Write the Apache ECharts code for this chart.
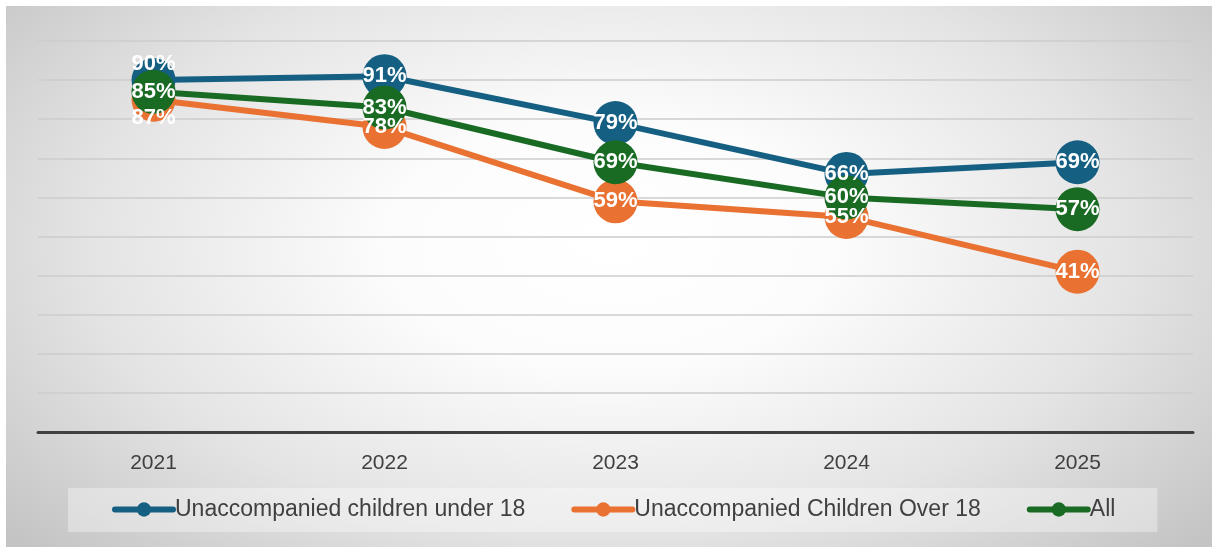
<!DOCTYPE html>
<html>
<head>
<meta charset="utf-8">
<script src="https://cdn.jsdelivr.net/npm/echarts@6/dist/echarts.min.js"></script>
<style>
	html, body { margin: 0; padding: 0; background: #fff; }
	.chart {
		position: absolute;
		left: 6px;
		top: 6px;
		width: 1206px;
		height: 541px;
		background: radial-gradient(ellipse 66% 82% at 50% 44%, #ffffff 0%, #fcfcfc 28%, #e4e4e4 65%, #c4c4c4 100%);
	}
</style>
</head>
<body>
<div class="chart" id="chart"></div>
<script>
	var years = ['2021', '2022', '2023', '2024', '2025'];
	var seriesNames = ['Unaccompanied children under 18', 'Unaccompanied Children Over 18', 'All'];
	var under18 = [90, 91, 79, 66, 69];
	var over18 = [85, 78, 59, 55, 41];
	var allChildren = [87, 83, 69, 60, 57];
	// data labels as printed on the chart
	var under18Labels = ['90%', '91%', '79%', '66%', '69%'];
	var over18Labels = ['87%', '78%', '59%', '55%', '41%'];
	var allLabels = ['85%', '83%', '69%', '60%', '57%'];
	var colors = ['#156082', '#e97132', '#196b24'];

	function makeSeries(name, values, labels, color, firstOffset) {
		return {
			name: name,
			type: 'line',
			data: values.map(function (v, i) {
				var item = { value: v };
				if (i === 0 && firstOffset) {
					item.label = { offset: firstOffset };
				}
				return item;
			}),
			symbol: 'circle',
			symbolSize: 44,
			color: color,
			lineStyle: { width: 6, color: color },
			itemStyle: { color: color },
			label: {
				show: true,
				position: 'inside',
				color: '#fff',
				fontSize: 22,
				fontWeight: 'bold',
				fontFamily: 'Liberation Sans, Arial, sans-serif',
				formatter: function (p) {
					return labels[p.dataIndex];
				}
			},
			emphasis: { disabled: true },
			animation: false
		};
	}

	var chart = echarts.init(document.getElementById('chart'));
	chart.setOption({
		backgroundColor: 'transparent',
		grid: {
			left: 32,
			right: 19,
			top: 35,
			bottom: 115,
			containLabel: false
		},
		legend: {
			left: 62,
			top: 482,
			backgroundColor: 'rgba(255,255,255,0.35)',
			padding: [10, 42, 11, 44],
			itemGap: 46,
			itemWidth: 58,
			itemHeight: 18,
			lineStyle: { width: 6, cap: 'round' },
			textStyle: {
				color: '#404040',
				fontSize: 23,
				fontFamily: 'Liberation Sans Narrow, Liberation Sans, Arial, sans-serif',
				padding: [0, 0, 0, -3]
			},
			data: seriesNames
		},
		xAxis: {
			type: 'category',
			data: years,
			boundaryGap: true,
			axisLine: { lineStyle: { color: '#404040', width: 3 } },
			axisTick: { show: false },
			axisLabel: {
				color: '#404040',
				fontSize: 21,
				margin: 21,
				fontFamily: 'Liberation Sans, Arial, sans-serif'
			}
		},
		yAxis: {
			type: 'value',
			min: 0,
			max: 100,
			interval: 10,
			axisLabel: { show: false },
			axisLine: { show: false },
			axisTick: { show: false },
			splitLine: { lineStyle: { color: '#cdcdcd', width: 1.5 } }
		},
		series: [
			makeSeries(seriesNames[0], under18, under18Labels, colors[0], [0, -16]),
			makeSeries(seriesNames[1], over18, over18Labels, colors[1], [0, 18]),
			makeSeries(seriesNames[2], allChildren, allLabels, colors[2], null)
		]
	});
</script>
</body>
</html>
